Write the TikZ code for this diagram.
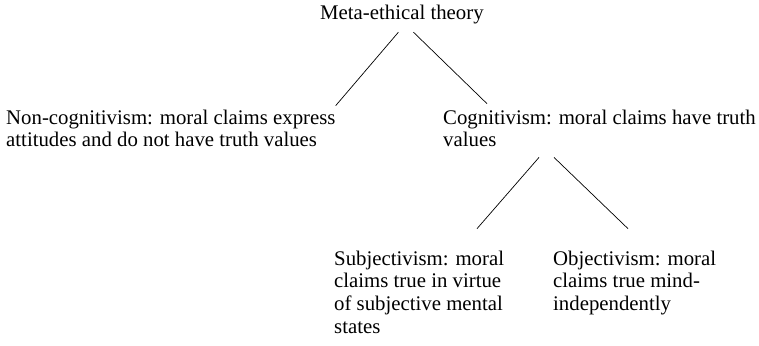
\documentclass[tikz,border=0pt]{standalone}
\usepackage{fontspec}
\setmainfont{Liberation Serif}
\begin{document}
\begin{tikzpicture}[x=1pt, y=-1pt, font=\fontsize{20.8}{22.7}\selectfont,
  claim/.style={inner sep=0pt, anchor=base west, align=left},
  branch/.style={line width=0.7pt}]
  \useasboundingbox (0,0) rectangle (759,345);
  % theory levels (placed at the baseline of the last line)
  \node[claim] (meta) at (320,20) {Meta-ethical theory};
  \node[claim] (noncog) at (6,146.7) {Non-cognitivism: moral claims express\\attitudes and do not have truth values};
  \node[claim] (cog) at (443,146.7) {Cognitivism: moral claims have truth\\values};
  \node[claim] (subj) at (334,333.1) {Subjectivism: moral\\claims true in virtue\\of subjective mental\\states};
  \node[claim] (obj) at (553,310.4) {Objectivism: moral\\claims true mind-\\independently};
  % branches
  \draw[branch] ([xshift=-3.5pt,yshift=-7.5pt]meta.south) -- ([yshift=3.7pt]noncog.north east);
  \draw[branch] ([xshift=11.5pt,yshift=-7.5pt]meta.south) -- ([xshift=44pt,yshift=5.7pt]cog.north west);
  \draw[branch] ([xshift=96pt,yshift=-10.3pt]cog.south west) -- ([xshift=143pt,yshift=21.7pt]subj.north west);
  \draw[branch] ([xshift=111pt,yshift=-10.3pt]cog.south west) -- ([xshift=75pt,yshift=21.7pt]obj.north west);
\end{tikzpicture}
\end{document}
